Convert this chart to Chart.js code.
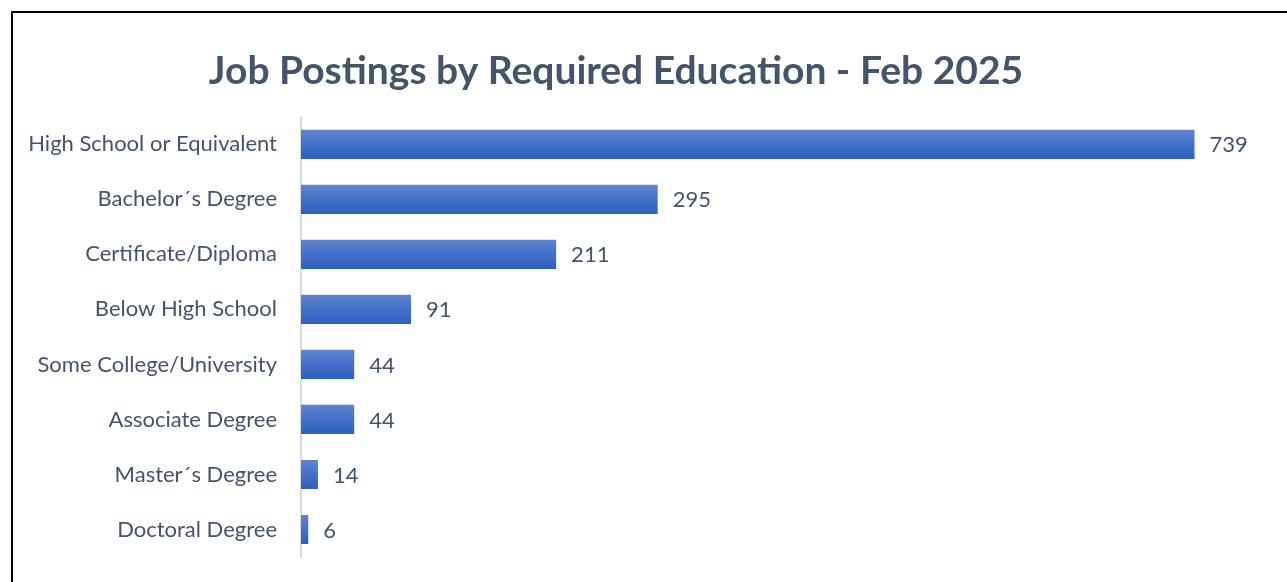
<!DOCTYPE html>
<html>
<head>
<meta charset="utf-8">
<script src="https://cdn.jsdelivr.net/npm/chart.js@4"></script>
<style>
  html, body { margin: 0; padding: 0; background: #fff; }
  body { width: 1287px; height: 582px; position: relative; overflow: hidden; }
  #frame {
    position: absolute; left: 11px; top: 11px; right: -4px; bottom: -4px;
    border-left: 2px solid #000; border-top: 2px solid #000;
  }
  #wrap { position: absolute; left: 0; top: 0; width: 1287px; height: 582px; }
</style>
</head>
<body>
<div id="frame"></div>
<div id="wrap"><canvas id="eduChart" width="1287" height="582"></canvas></div>
<script>
// Data grafik
const categories = [
    'High School or Equivalent', 'Bachelor´s Degree', 'Certificate/Diploma',
    'Below High School', 'Some College/University', 'Associate Degree',
    'Master´s Degree', 'Doctoral Degree'
];
const postings = [739, 295, 211, 91, 44, 44, 14, 6];

const textColor = '#44546a';
const fontFamily = 'Lato, "Open Sans", sans-serif';

// Gradien per batang (atas terang, bawah gelap)
function barGradient(context) {
    const chart = context.chart;
    const yScale = chart.scales.y;
    if (!yScale || yScale.top === undefined) return '#4472c4';
    const cy = yScale.getPixelForValue(context.dataIndex);
    const half = 15;
    const g = chart.ctx.createLinearGradient(0, cy - half, 0, cy + half);
    g.addColorStop(0, '#6085d2');
    g.addColorStop(0.5, '#4470c8');
    g.addColorStop(1, '#2c5fbc');
    return g;
}

// Label nilai di ujung batang
const valueLabels = {
    id: 'valueLabels',
    afterDatasetsDraw(chart) {
        const ctx = chart.ctx;
        const meta = chart.getDatasetMeta(0);
        ctx.save();
        ctx.font = '22px ' + fontFamily;
        ctx.fillStyle = textColor;
        ctx.textAlign = 'left';
        ctx.textBaseline = 'middle';
        meta.data.forEach((bar, i) => {
            ctx.fillText(String(postings[i]), bar.x + 15, bar.y + 1);
        });
        ctx.restore();
    }
};

const ctx = document.getElementById('eduChart').getContext('2d');
const eduChart = new Chart(ctx, {
    type: 'bar',
    data: {
        labels: categories,
        datasets: [{
            label: 'Job Postings',
            data: postings,
            backgroundColor: barGradient,
            borderWidth: 0,
            categoryPercentage: 1,
            barPercentage: 0.53
        }]
    },
    options: {
        indexAxis: 'y',
        responsive: false,
        animation: false,
        devicePixelRatio: 1,
        layout: { padding: { left: 0, right: 55, top: 0, bottom: 25 } },
        plugins: {
            legend: { display: false },
            tooltip: { enabled: false },
            title: {
                display: true,
                text: 'Job Postings by Required Education - Feb 2025',
                color: textColor,
                font: { family: fontFamily, size: 39, weight: 'bold', lineHeight: 1.2 },
                padding: { top: 48, bottom: 22 }
            }
        },
        scales: {
            x: {
                display: false,
                min: 0,
                max: 770
            },
            y: {
                // lebar sumbu tetap, tanpa padding label atas/bawah
                afterFit(scale) {
                    scale.width = 301;
                    scale.paddingTop = 0;
                    scale.paddingBottom = 0;
                },
                grid: { display: false },
                border: { display: true, color: '#d6dae2', width: 2 },
                ticks: {
                    color: textColor,
                    padding: 16,
                    font: { family: fontFamily, size: 22 }
                }
            }
        }
    },
    plugins: [valueLabels]
});
</script>
</body>
</html>
